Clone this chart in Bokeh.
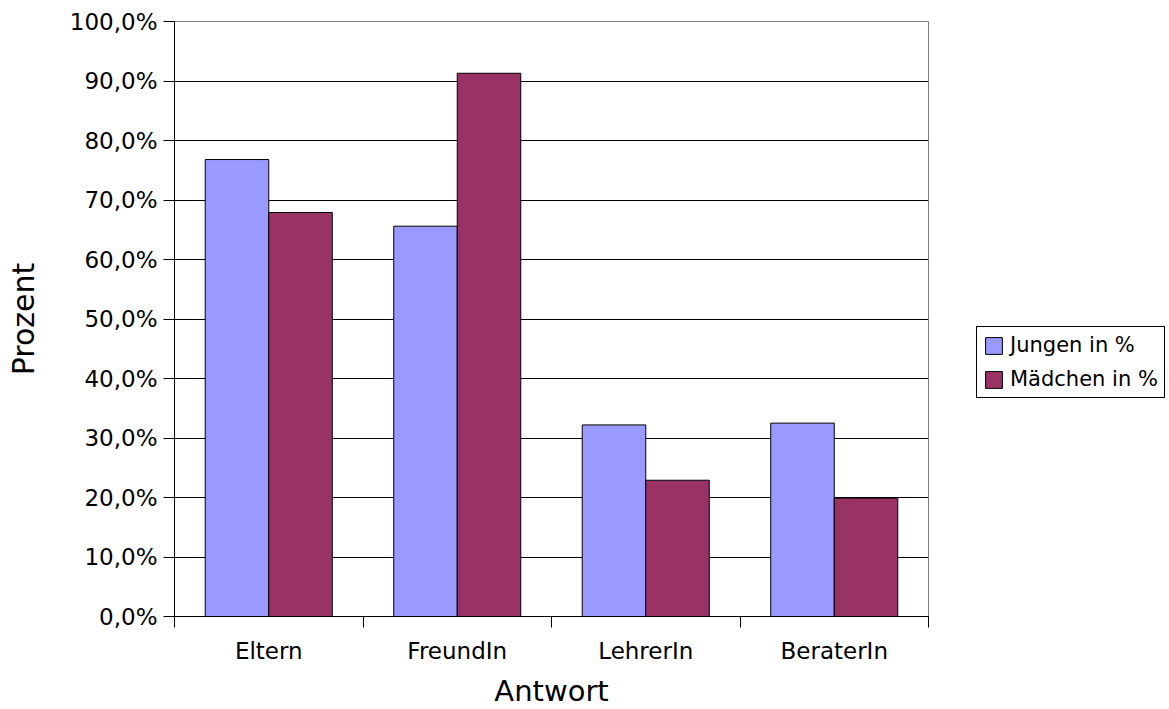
from bokeh.plotting import figure
from bokeh.models import (FixedTicker, Legend, LegendItem, ColumnDataSource,
                          Range1d)
from bokeh.embed import file_html
from bokeh.resources import INLINE
import numpy as np

# Survey answers: whom do pupils turn to (share of respondents in %)
categories = ["Eltern", "FreundIn", "LehrerIn", "BeraterIn"]
jungen = [76.8, 65.6, 32.2, 32.5]
maedchen = [67.9, 91.3, 22.9, 19.9]
y_ticks = [0, 10, 20, 30, 40, 50, 60, 70, 80, 90, 100]
y_tick_labels = ["0,0%", "10,0%", "20,0%", "30,0%", "40,0%", "50,0%",
                 "60,0%", "70,0%", "80,0%", "90,0%", "100,0%"]

FONT = "DejaVu Sans"
BLUE = "#9999FF"
PLUM = "#993366"

centers = np.arange(len(categories)) + 0.5
bar_w = 0.337
src = ColumnDataSource(dict(
    xj=centers - bar_w / 2, xm=centers + bar_w / 2,
    jungen=jungen, maedchen=maedchen,
))

p = figure(frame_width=754, frame_height=595, output_backend="svg",
           toolbar_location=None,
           x_range=Range1d(0, len(categories)), y_range=Range1d(0, 100),
           min_border_left=174, min_border_right=241,
           min_border_top=21, min_border_bottom=93,
           background_fill_color="white", border_fill_color="white",
           outline_line_color="#808080", outline_line_width=1)

rj = p.vbar(x="xj", top="jungen", width=bar_w, source=src,
            fill_color=BLUE, line_color="black", line_width=1)
rm = p.vbar(x="xm", top="maedchen", width=bar_w, source=src,
            fill_color=PLUM, line_color="black", line_width=1)

# x axis: labels at category centres, tick marks at category boundaries
xa = p.xaxis[0]
xa.ticker = FixedTicker(ticks=list(centers),
                        minor_ticks=list(range(len(categories) + 1)))
xa.major_label_overrides = {float(c): n for c, n in zip(centers, categories)}
xa.major_tick_out = 0
xa.major_tick_in = 0
xa.minor_tick_out = 11
xa.minor_tick_in = 0
xa.minor_tick_line_color = "black"
xa.axis_line_color = "black"
xa.major_label_standoff = 10
xa.major_label_text_font = FONT
xa.major_label_text_font_size = "23px"
xa.major_label_text_color = "black"
xa.axis_label = "Antwort"
xa.axis_label_text_font = FONT
xa.axis_label_text_font_size = "29px"
xa.axis_label_text_font_style = "normal"
xa.axis_label_text_color = "black"
xa.axis_label_standoff = 7

ya = p.yaxis[0]
ya.ticker = FixedTicker(ticks=y_ticks, minor_ticks=[])
ya.major_label_overrides = {t: l for t, l in zip(y_ticks, y_tick_labels)}
ya.major_tick_out = 11
ya.major_tick_in = 0
ya.major_tick_line_color = "black"
ya.axis_line_color = "black"
ya.major_label_standoff = 6
ya.major_label_text_font = FONT
ya.major_label_text_font_size = "23px"
ya.major_label_text_color = "black"
ya.axis_label = "Prozent"
ya.axis_label_text_font = FONT
ya.axis_label_text_font_size = "30px"
ya.axis_label_text_font_style = "normal"
ya.axis_label_text_color = "black"
ya.axis_label_standoff = 26

p.xgrid.visible = False
p.ygrid.ticker = FixedTicker(ticks=y_ticks[1:-1])
p.ygrid.grid_line_color = "black"
p.ygrid.grid_line_width = 1
p.ygrid.grid_line_alpha = 1

legend = Legend(items=[LegendItem(label="Jungen in %", renderers=[rj]),
                       LegendItem(label="Mädchen in %", renderers=[rm])],
                location=(48, 218), orientation="vertical",
                border_line_color="black", border_line_width=1,
                border_line_alpha=1,
                background_fill_color="white", background_fill_alpha=1,
                label_text_font=FONT, label_text_font_size="21px",
                label_text_color="black",
                glyph_width=21, glyph_height=21, label_standoff=6,
                spacing=10, padding=6, margin=0, label_height=21)
p.add_layout(legend, "right")

open("out.html", "w").write(file_html(p, INLINE))
